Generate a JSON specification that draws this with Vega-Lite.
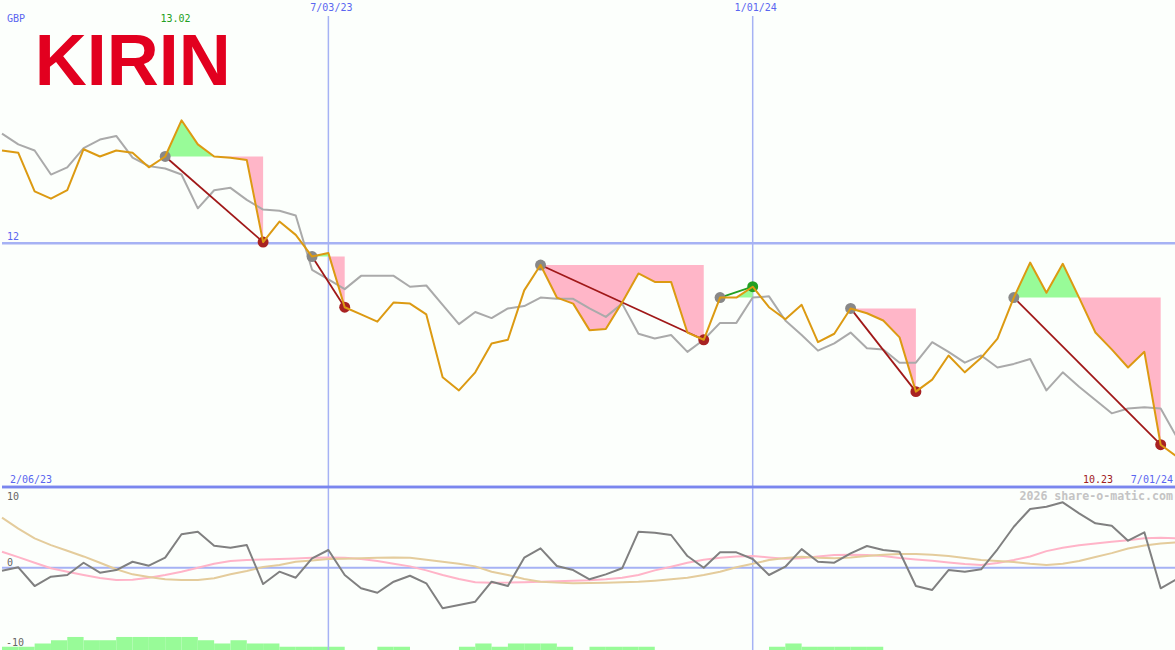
{
"$schema": "https://vega.github.io/schema/vega-lite/v6.json",
"background": "#fcfffc",
"padding": 0,
"spacing": 0,
"bounds": "flush",
"config": {"view": {"stroke": null}, "axis": {"disable": true}, "legend": {"disable": true}, "text": {"font": "DejaVu Sans Mono", "fontSize": 10}, "line": {"clip": true, "strokeJoin": "round"}, "rule": {"clip": true}},
"datasets": {
"weekly": [
{"d":"2023-02-13","p":12.77,"b":12.91,"o":-0.45,"s1":2.41,"s2":7.54},
{"d":"2023-02-20","p":12.75,"b":12.82,"o":0.06,"s1":1.6,"s2":5.9},
{"d":"2023-02-27","p":12.43,"b":12.77,"o":-2.76,"s1":0.75,"s2":4.43},
{"d":"2023-03-06","p":12.37,"b":12.57,"o":-1.36,"s1":-0.09,"s2":3.4},
{"d":"2023-03-13","p":12.44,"b":12.63,"o":-1.10,"s1":-0.6,"s2":2.56},
{"d":"2023-03-20","p":12.78,"b":12.79,"o":0.75,"s1":-1.1,"s2":1.7},
{"d":"2023-03-27","p":12.72,"b":12.86,"o":-0.75,"s1":-1.55,"s2":0.75},
{"d":"2023-04-03","p":12.77,"b":12.89,"o":-0.35,"s1":-1.86,"s2":-0.24},
{"d":"2023-04-10","p":12.75,"b":12.71,"o":0.90,"s1":-1.8,"s2":-1.0},
{"d":"2023-04-17","p":12.63,"b":12.64,"o":0.30,"s1":-1.5,"s2":-1.4},
{"d":"2023-04-24","p":12.72,"b":12.62,"o":1.51,"s1":-1.1,"s2":-1.75},
{"d":"2023-05-01","p":13.02,"b":12.57,"o":5.04,"s1":-0.6,"s2":-1.85},
{"d":"2023-05-08","p":12.82,"b":12.29,"o":5.43,"s1":0.0,"s2":-1.86},
{"d":"2023-05-15","p":12.72,"b":12.44,"o":3.32,"s1":0.6,"s2":-1.6},
{"d":"2023-05-22","p":12.71,"b":12.46,"o":3.02,"s1":1.0,"s2":-1.0},
{"d":"2023-05-29","p":12.69,"b":12.36,"o":3.42,"s1":1.15,"s2":-0.5},
{"d":"2023-06-05","p":12.01,"b":12.28,"o":-2.46,"s1":1.25,"s2":0.1},
{"d":"2023-06-12","p":12.18,"b":12.27,"o":-0.60,"s1":1.3,"s2":0.4},
{"d":"2023-06-19","p":12.07,"b":12.23,"o":-1.51,"s1":1.4,"s2":0.9},
{"d":"2023-06-26","p":11.89,"b":11.78,"o":1.42,"s1":1.5,"s2":1.1},
{"d":"2023-07-03","p":11.92,"b":11.70,"o":2.67,"s1":1.55,"s2":1.3},
{"d":"2023-07-10","p":11.47,"b":11.62,"o":-1.10,"s1":1.5,"s2":1.35},
{"d":"2023-07-17","p":11.41,"b":11.73,"o":-3.11,"s1":1.3,"s2":1.42},
{"d":"2023-07-24","p":11.35,"b":11.73,"o":-3.77,"s1":1.0,"s2":1.5},
{"d":"2023-07-31","p":11.51,"b":11.73,"o":-2.11,"s1":0.6,"s2":1.55},
{"d":"2023-08-07","p":11.50,"b":11.64,"o":-1.21,"s1":0.2,"s2":1.5},
{"d":"2023-08-14","p":11.41,"b":11.65,"o":-2.35,"s1":-0.4,"s2":1.2},
{"d":"2023-08-21","p":10.89,"b":11.49,"o":-6.12,"s1":-1.1,"s2":0.9},
{"d":"2023-08-28","p":10.78,"b":11.33,"o":-5.63,"s1":-1.7,"s2":0.6},
{"d":"2023-09-04","p":10.93,"b":11.43,"o":-5.13,"s1":-2.2,"s2":0.2},
{"d":"2023-09-11","p":11.17,"b":11.38,"o":-2.11,"s1":-2.26,"s2":-0.6},
{"d":"2023-09-18","p":11.20,"b":11.46,"o":-2.76,"s1":-2.25,"s2":-1.1},
{"d":"2023-09-25","p":11.61,"b":11.48,"o":1.51,"s1":-2.2,"s2":-1.7},
{"d":"2023-10-02","p":11.82,"b":11.55,"o":2.92,"s1":-2.11,"s2":-2.11},
{"d":"2023-10-09","p":11.55,"b":11.54,"o":0.26,"s1":-2.05,"s2":-2.25},
{"d":"2023-10-16","p":11.50,"b":11.54,"o":-0.35,"s1":-1.98,"s2":-2.35},
{"d":"2023-10-23","p":11.28,"b":11.46,"o":-1.75,"s1":-1.9,"s2":-2.3},
{"d":"2023-10-30","p":11.29,"b":11.39,"o":-1.00,"s1":-1.75,"s2":-2.26},
{"d":"2023-11-06","p":11.51,"b":11.50,"o":-0.09,"s1":-1.5,"s2":-2.2},
{"d":"2023-11-13","p":11.75,"b":11.25,"o":5.43,"s1":-1.1,"s2":-2.11},
{"d":"2023-11-20","p":11.68,"b":11.21,"o":5.28,"s1":-0.4,"s2":-1.95},
{"d":"2023-11-27","p":11.68,"b":11.24,"o":4.93,"s1":0.15,"s2":-1.75},
{"d":"2023-12-04","p":11.26,"b":11.10,"o":1.76,"s1":0.75,"s2":-1.5},
{"d":"2023-12-11","p":11.20,"b":11.20,"o":0.0,"s1":1.2,"s2":-1.1},
{"d":"2023-12-18","p":11.55,"b":11.34,"o":2.32,"s1":1.5,"s2":-0.6},
{"d":"2023-12-25","p":11.55,"b":11.34,"o":2.32,"s1":1.7,"s2":0.06},
{"d":"2024-01-01","p":11.64,"b":11.55,"o":1.31,"s1":1.75,"s2":0.6},
{"d":"2024-01-08","p":11.47,"b":11.56,"o":-1.10,"s1":1.55,"s2":1.16},
{"d":"2024-01-15","p":11.37,"b":11.36,"o":0.15,"s1":1.35,"s2":1.45},
{"d":"2024-01-22","p":11.49,"b":11.24,"o":2.8,"s1":1.42,"s2":1.66},
{"d":"2024-01-29","p":11.18,"b":11.11,"o":0.90,"s1":1.7,"s2":1.5},
{"d":"2024-02-05","p":11.25,"b":11.17,"o":0.75,"s1":1.9,"s2":1.42},
{"d":"2024-02-12","p":11.46,"b":11.26,"o":2.17,"s1":1.95,"s2":1.55},
{"d":"2024-02-19","p":11.42,"b":11.13,"o":3.27,"s1":1.92,"s2":1.76},
{"d":"2024-02-26","p":11.36,"b":11.12,"o":2.67,"s1":1.75,"s2":1.95},
{"d":"2024-03-04","p":11.22,"b":11.01,"o":2.41,"s1":1.45,"s2":2.05},
{"d":"2024-03-11","p":10.77,"b":11.01,"o":-2.76,"s1":1.25,"s2":2.07},
{"d":"2024-03-18","p":10.87,"b":11.18,"o":-3.36,"s1":1.06,"s2":1.95},
{"d":"2024-03-25","p":11.07,"b":11.10,"o":-0.35,"s1":0.8,"s2":1.76},
{"d":"2024-04-01","p":10.93,"b":11.01,"o":-0.60,"s1":0.56,"s2":1.45},
{"d":"2024-04-08","p":11.05,"b":11.07,"o":-0.24,"s1":0.41,"s2":1.16},
{"d":"2024-04-15","p":11.21,"b":10.97,"o":2.78,"s1":0.7,"s2":1.0},
{"d":"2024-04-22","p":11.55,"b":11.00,"o":6.18,"s1":1.16,"s2":0.85},
{"d":"2024-04-29","p":11.84,"b":11.04,"o":8.85,"s1":1.7,"s2":0.6},
{"d":"2024-05-06","p":11.59,"b":10.78,"o":9.20,"s1":2.5,"s2":0.41},
{"d":"2024-05-13","p":11.83,"b":10.93,"o":9.86,"s1":3.0,"s2":0.6},
{"d":"2024-05-20","p":11.55,"b":10.81,"o":8.20,"s1":3.4,"s2":1.0},
{"d":"2024-05-27","p":11.26,"b":10.70,"o":6.70,"s1":3.65,"s2":1.6},
{"d":"2024-06-03","p":11.12,"b":10.59,"o":6.33,"s1":3.9,"s2":2.2},
{"d":"2024-06-10","p":10.97,"b":10.63,"o":4.07,"s1":4.15,"s2":2.9},
{"d":"2024-06-17","p":11.10,"b":10.64,"o":5.34,"s1":4.45,"s2":3.35},
{"d":"2024-06-24","p":10.33,"b":10.63,"o":-3.11,"s1":4.5,"s2":3.65},
{"d":"2024-07-01","p":10.23,"b":10.39,"o":-1.70,"s1":4.43,"s2":3.83}
],
"fills": [
{"seg":"T1g","side":"gain","d":"2023-04-24","p":12.72,"lv":12.72},
{"seg":"T1g","side":"gain","d":"2023-05-01","p":13.02,"lv":12.72},
{"seg":"T1g","side":"gain","d":"2023-05-08","p":12.82,"lv":12.72},
{"seg":"T1g","side":"gain","d":"2023-05-15","p":12.72,"lv":12.72},
{"seg":"T1l","side":"loss","d":"2023-05-15","p":12.72,"lv":12.72},
{"seg":"T1l","side":"loss","d":"2023-05-22","p":12.71,"lv":12.72},
{"seg":"T1l","side":"loss","d":"2023-05-29","p":12.69,"lv":12.72},
{"seg":"T1l","side":"loss","d":"2023-06-05","p":12.01,"lv":12.72},
{"seg":"T2g","side":"gain","d":"2023-06-26","p":11.89,"lv":11.89},
{"seg":"T2g","side":"gain","d":"2023-07-03","p":11.92,"lv":11.89},
{"seg":"T2l","side":"loss","d":"2023-07-03","p":11.89,"lv":11.89},
{"seg":"T2l","side":"loss","d":"2023-07-10","p":11.47,"lv":11.89},
{"seg":"T3l","side":"loss","d":"2023-10-02","p":11.82,"lv":11.82},
{"seg":"T3l","side":"loss","d":"2023-10-09","p":11.55,"lv":11.82},
{"seg":"T3l","side":"loss","d":"2023-10-16","p":11.50,"lv":11.82},
{"seg":"T3l","side":"loss","d":"2023-10-23","p":11.28,"lv":11.82},
{"seg":"T3l","side":"loss","d":"2023-10-30","p":11.29,"lv":11.82},
{"seg":"T3l","side":"loss","d":"2023-11-06","p":11.51,"lv":11.82},
{"seg":"T3l","side":"loss","d":"2023-11-13","p":11.75,"lv":11.82},
{"seg":"T3l","side":"loss","d":"2023-11-20","p":11.68,"lv":11.82},
{"seg":"T3l","side":"loss","d":"2023-11-27","p":11.68,"lv":11.82},
{"seg":"T3l","side":"loss","d":"2023-12-04","p":11.26,"lv":11.82},
{"seg":"T3l","side":"loss","d":"2023-12-11","p":11.20,"lv":11.82},
{"seg":"T4g","side":"gain","d":"2023-12-18","p":11.55,"lv":11.55},
{"seg":"T4g","side":"gain","d":"2023-12-25","p":11.55,"lv":11.55},
{"seg":"T4g","side":"gain","d":"2024-01-01","p":11.64,"lv":11.55},
{"seg":"T5l","side":"loss","d":"2024-02-12","p":11.46,"lv":11.46},
{"seg":"T5l","side":"loss","d":"2024-02-19","p":11.42,"lv":11.46},
{"seg":"T5l","side":"loss","d":"2024-02-26","p":11.36,"lv":11.46},
{"seg":"T5l","side":"loss","d":"2024-03-04","p":11.22,"lv":11.46},
{"seg":"T5l","side":"loss","d":"2024-03-11","p":10.77,"lv":11.46},
{"seg":"T6g","side":"gain","d":"2024-04-22","p":11.55,"lv":11.55},
{"seg":"T6g","side":"gain","d":"2024-04-29","p":11.84,"lv":11.55},
{"seg":"T6g","side":"gain","d":"2024-05-06","p":11.59,"lv":11.55},
{"seg":"T6g","side":"gain","d":"2024-05-13","p":11.83,"lv":11.55},
{"seg":"T6g","side":"gain","d":"2024-05-20","p":11.55,"lv":11.55},
{"seg":"T6l","side":"loss","d":"2024-05-20","p":11.55,"lv":11.55},
{"seg":"T6l","side":"loss","d":"2024-05-27","p":11.26,"lv":11.55},
{"seg":"T6l","side":"loss","d":"2024-06-03","p":11.12,"lv":11.55},
{"seg":"T6l","side":"loss","d":"2024-06-10","p":10.97,"lv":11.55},
{"seg":"T6l","side":"loss","d":"2024-06-17","p":11.10,"lv":11.55},
{"seg":"T6l","side":"loss","d":"2024-06-24","p":10.33,"lv":11.55}
],
"trades": [
{"s":"2023-04-24","sp":12.72,"e":"2023-06-05","ep":12.01,"r":"loss"},
{"s":"2023-06-26","sp":11.89,"e":"2023-07-10","ep":11.47,"r":"loss"},
{"s":"2023-10-02","sp":11.82,"e":"2023-12-11","ep":11.20,"r":"loss"},
{"s":"2023-12-18","sp":11.55,"e":"2024-01-01","ep":11.64,"r":"gain"},
{"s":"2024-02-12","sp":11.46,"e":"2024-03-11","ep":10.77,"r":"loss"},
{"s":"2024-04-22","sp":11.55,"e":"2024-06-24","ep":10.33,"r":"loss"}
],
"dots": [
{"d":"2023-04-24","p":12.72,"k":"entry"},
{"d":"2023-06-26","p":11.89,"k":"entry"},
{"d":"2023-10-02","p":11.82,"k":"entry"},
{"d":"2023-12-18","p":11.55,"k":"entry"},
{"d":"2024-02-12","p":11.46,"k":"entry"},
{"d":"2024-04-22","p":11.55,"k":"entry"},
{"d":"2023-06-05","p":12.01,"k":"loss"},
{"d":"2023-07-10","p":11.47,"k":"loss"},
{"d":"2023-12-11","p":11.20,"k":"loss"},
{"d":"2024-03-11","p":10.77,"k":"loss"},
{"d":"2024-06-24","p":10.33,"k":"loss"},
{"d":"2024-01-01","p":11.64,"k":"gain"}
],
"vol": [
{"d":"2023-02-13","e":"2023-02-20","v":1},
{"d":"2023-02-20","e":"2023-02-27","v":1},
{"d":"2023-02-27","e":"2023-03-06","v":2},
{"d":"2023-03-06","e":"2023-03-13","v":3},
{"d":"2023-03-13","e":"2023-03-20","v":4},
{"d":"2023-03-20","e":"2023-03-27","v":3},
{"d":"2023-03-27","e":"2023-04-03","v":3},
{"d":"2023-04-03","e":"2023-04-10","v":4},
{"d":"2023-04-10","e":"2023-04-17","v":4},
{"d":"2023-04-17","e":"2023-04-24","v":4},
{"d":"2023-04-24","e":"2023-05-01","v":4},
{"d":"2023-05-01","e":"2023-05-08","v":4},
{"d":"2023-05-08","e":"2023-05-15","v":3},
{"d":"2023-05-15","e":"2023-05-22","v":2},
{"d":"2023-05-22","e":"2023-05-29","v":3},
{"d":"2023-05-29","e":"2023-06-05","v":2},
{"d":"2023-06-05","e":"2023-06-12","v":2},
{"d":"2023-06-12","e":"2023-06-19","v":1},
{"d":"2023-06-19","e":"2023-06-26","v":1},
{"d":"2023-06-26","e":"2023-07-03","v":1},
{"d":"2023-07-03","e":"2023-07-10","v":1},
{"d":"2023-07-24","e":"2023-07-31","v":1},
{"d":"2023-07-31","e":"2023-08-07","v":1},
{"d":"2023-08-28","e":"2023-09-04","v":1},
{"d":"2023-09-04","e":"2023-09-11","v":2},
{"d":"2023-09-11","e":"2023-09-18","v":1},
{"d":"2023-09-18","e":"2023-09-25","v":2},
{"d":"2023-09-25","e":"2023-10-02","v":2},
{"d":"2023-10-02","e":"2023-10-09","v":2},
{"d":"2023-10-09","e":"2023-10-16","v":1},
{"d":"2023-10-23","e":"2023-10-30","v":1},
{"d":"2023-10-30","e":"2023-11-06","v":1},
{"d":"2023-11-06","e":"2023-11-13","v":1},
{"d":"2023-11-13","e":"2023-11-20","v":1},
{"d":"2024-01-08","e":"2024-01-15","v":1},
{"d":"2024-01-15","e":"2024-01-22","v":2},
{"d":"2024-01-22","e":"2024-01-29","v":1},
{"d":"2024-01-29","e":"2024-02-05","v":1},
{"d":"2024-02-05","e":"2024-02-12","v":1},
{"d":"2024-02-12","e":"2024-02-19","v":1},
{"d":"2024-02-19","e":"2024-02-26","v":1}
],
"marks": [{"d":"2023-07-03"},{"d":"2024-01-01"}],
"one": [{}]
},
"vconcat": [
{
"width": 1175,
"height": 487,
"resolve": {"scale": {"color": "independent"}},
"layer": [
{"data": {"name": "marks"},
 "mark": {"type": "rule", "color": "#a6b2f4", "strokeWidth": 1.5},
 "encoding": {
  "x": {"field": "d", "type": "temporal", "scale": {"type": "utc", "nice": false, "domain": [{"year": 2023, "month": 2, "date": 13, "utc": true}, {"year": 2024, "month": 7, "date": 1, "utc": true}]}},
  "y": {"datum": 13.885, "type": "quantitative", "scale": {"domain": [9.9793, 14.0174], "nice": false, "zero": false}},
  "y2": {"datum": 9.9793}}},
{"data": {"name": "one"},
 "mark": {"type": "rule", "color": "#a6b2f4", "strokeWidth": 2.5},
 "encoding": {"y": {"datum": 12, "type": "quantitative"}}},
{"data": {"name": "fills"},
 "mark": {"type": "area", "opacity": 1, "interpolate": "linear"},
 "encoding": {
  "x": {"field": "d", "type": "temporal"},
  "y": {"field": "p", "type": "quantitative"},
  "y2": {"field": "lv"},
  "detail": {"field": "seg"},
  "color": {"field": "side", "type": "nominal", "scale": {"domain": ["gain", "loss"], "range": ["#98fb98", "#ffb6c8"]}}}},
{"data": {"name": "weekly"},
 "mark": {"type": "line", "color": "#aaaaaa", "strokeWidth": 2},
 "encoding": {"x": {"field": "d", "type": "temporal"}, "y": {"field": "b", "type": "quantitative"}}},
{"data": {"name": "trades"},
 "mark": {"type": "rule", "strokeWidth": 1.8},
 "encoding": {
  "x": {"field": "s", "type": "temporal"},
  "x2": {"field": "e"},
  "y": {"field": "sp", "type": "quantitative"},
  "y2": {"field": "ep"},
  "color": {"field": "r", "type": "nominal", "scale": {"domain": ["gain", "loss"], "range": ["#22a022", "#a01818"]}}}},
{"data": {"name": "dots"},
 "mark": {"type": "point", "filled": true, "opacity": 1, "size": 120},
 "encoding": {
  "x": {"field": "d", "type": "temporal"},
  "y": {"field": "p", "type": "quantitative"},
  "color": {"field": "k", "type": "nominal", "scale": {"domain": ["entry", "loss", "gain"], "range": ["#888888", "#a82222", "#22a022"]}}}},
{"data": {"name": "weekly"},
 "mark": {"type": "line", "color": "#dc9a12", "strokeWidth": 2},
 "encoding": {"x": {"field": "d", "type": "temporal"}, "y": {"field": "p", "type": "quantitative"}}},
{"data": {"name": "one"},
 "mark": {"type": "rule", "color": "#7a86ee", "strokeWidth": 2.5},
 "encoding": {"y": {"datum": 9.9793, "type": "quantitative"}}},
{"data": {"values": [{"d": "2023-02-27", "p": 13.3126, "t": "KIRIN"}]},
 "mark": {"type": "text", "font": "Liberation Sans", "fontWeight": "bold", "fontSize": 72, "align": "left", "baseline": "alphabetic", "color": "#e2001f"},
 "encoding": {"x": {"field": "d", "type": "temporal"}, "y": {"field": "p", "type": "quantitative"}, "text": {"field": "t"}}},
{"data": {"values": [{"d": "2023-02-13", "p": 13.86, "t": "GBP"}]},
 "mark": {"type": "text", "align": "left", "baseline": "middle", "dx": 5, "color": "#5a66f0"},
 "encoding": {"x": {"field": "d", "type": "temporal"}, "y": {"field": "p", "type": "quantitative"}, "text": {"field": "t"}}},
{"data": {"values": [{"d": "2023-05-01", "p": 13.86, "t": "13.02"}]},
 "mark": {"type": "text", "align": "center", "baseline": "middle", "dx": -6, "color": "#22a022"},
 "encoding": {"x": {"field": "d", "type": "temporal"}, "y": {"field": "p", "type": "quantitative"}, "text": {"field": "t"}}},
{"data": {"values": [{"d": "2023-07-03", "p": 13.951, "t": "7/03/23"}, {"d": "2024-01-01", "p": 13.951, "t": "1/01/24"}]},
 "mark": {"type": "text", "align": "center", "baseline": "middle", "dx": 3, "color": "#5a66f0"},
 "encoding": {"x": {"field": "d", "type": "temporal"}, "y": {"field": "p", "type": "quantitative"}, "text": {"field": "t"}}},
{"data": {"values": [{"d": "2023-02-13", "p": 12, "t": "12"}]},
 "mark": {"type": "text", "align": "left", "baseline": "bottom", "dx": 5, "dy": -1, "color": "#5a66f0"},
 "encoding": {"x": {"field": "d", "type": "temporal"}, "y": {"field": "p", "type": "quantitative"}, "text": {"field": "t"}}},
{"data": {"values": [{"d": "2023-02-13", "p": 9.9793, "t": "2/06/23"}]},
 "mark": {"type": "text", "align": "left", "baseline": "bottom", "dx": 8, "dy": -2, "color": "#5a66f0"},
 "encoding": {"x": {"field": "d", "type": "temporal"}, "y": {"field": "p", "type": "quantitative"}, "text": {"field": "t"}}},
{"data": {"values": [{"d": "2024-07-01", "p": 9.9793, "t": "7/01/24"}]},
 "mark": {"type": "text", "align": "right", "baseline": "bottom", "dx": -4, "dy": -2, "color": "#5a66f0"},
 "encoding": {"x": {"field": "d", "type": "temporal"}, "y": {"field": "p", "type": "quantitative"}, "text": {"field": "t"}}},
{"data": {"values": [{"d": "2024-07-01", "p": 9.9793, "t": "10.23"}]},
 "mark": {"type": "text", "align": "right", "baseline": "bottom", "dx": -64, "dy": -2, "color": "#a02020"},
 "encoding": {"x": {"field": "d", "type": "temporal"}, "y": {"field": "p", "type": "quantitative"}, "text": {"field": "t"}}}
]
},
{
"width": 1175,
"height": 163,
"resolve": {"scale": {"y": "independent"}},
"layer": [
{"data": {"name": "vol"},
 "mark": {"type": "rect", "color": "#98fb98"},
 "encoding": {
  "x": {"field": "d", "type": "temporal", "scale": {"type": "utc", "nice": false, "domain": [{"year": 2023, "month": 2, "date": 13, "utc": true}, {"year": 2024, "month": 7, "date": 1, "utc": true}]}},
  "x2": {"field": "e"},
  "y": {"field": "v", "type": "quantitative", "scale": {"domain": [0, 50], "nice": false}},
  "y2": {"datum": 0}}},
{"layer": [
{"data": {"name": "marks"},
 "mark": {"type": "rule", "color": "#a6b2f4", "strokeWidth": 1.5},
 "encoding": {"x": {"field": "d", "type": "temporal"}}},
{"data": {"name": "one"},
 "mark": {"type": "rule", "color": "#a6b2f4", "strokeWidth": 2},
 "encoding": {"y": {"datum": 0, "type": "quantitative", "scale": {"domain": [-12.41, 12.17], "nice": false, "zero": false}}}},
{"data": {"name": "weekly"},
 "mark": {"type": "line", "color": "#ffb4c8", "strokeWidth": 2},
 "encoding": {"x": {"field": "d", "type": "temporal"}, "y": {"field": "s1", "type": "quantitative"}}},
{"data": {"name": "weekly"},
 "mark": {"type": "line", "color": "#e4cc9c", "strokeWidth": 2},
 "encoding": {"x": {"field": "d", "type": "temporal"}, "y": {"field": "s2", "type": "quantitative"}}},
{"data": {"name": "weekly"},
 "mark": {"type": "line", "color": "#808080", "strokeWidth": 2},
 "encoding": {"x": {"field": "d", "type": "temporal"}, "y": {"field": "o", "type": "quantitative"}}},
{"data": {"name": "one"},
 "mark": {"type": "rule", "color": "#7a86ee", "strokeWidth": 2.5},
 "encoding": {"y": {"datum": 12.17, "type": "quantitative"}}},
{"data": {"values": [{"d": "2023-02-13", "v": 10, "t": "10"}]},
 "mark": {"type": "text", "align": "left", "baseline": "bottom", "dx": 5, "dy": 1, "color": "#666666"},
 "encoding": {"x": {"field": "d", "type": "temporal"}, "y": {"field": "v", "type": "quantitative"}, "text": {"field": "t"}}},
{"data": {"values": [{"d": "2023-02-13", "v": 0, "t": "0"}]},
 "mark": {"type": "text", "align": "left", "baseline": "bottom", "dx": 5, "dy": 0, "color": "#666666"},
 "encoding": {"x": {"field": "d", "type": "temporal"}, "y": {"field": "v", "type": "quantitative"}, "text": {"field": "t"}}},
{"data": {"values": [{"d": "2023-02-13", "v": -10, "t": "-10"}]},
 "mark": {"type": "text", "align": "left", "baseline": "top", "dx": 4, "dy": 4, "color": "#666666"},
 "encoding": {"x": {"field": "d", "type": "temporal"}, "y": {"field": "v", "type": "quantitative"}, "text": {"field": "t"}}},
{"data": {"values": [{"d": "2024-07-01", "v": 10, "t": "2026 share-o-matic.com"}]},
 "mark": {"type": "text", "align": "right", "baseline": "bottom", "dx": -4, "dy": 1, "fontSize": 11.6, "fontWeight": "bold", "color": "#c4c4c4"},
 "encoding": {"x": {"field": "d", "type": "temporal"}, "y": {"field": "v", "type": "quantitative"}, "text": {"field": "t"}}}
]}
]
}
]
}
